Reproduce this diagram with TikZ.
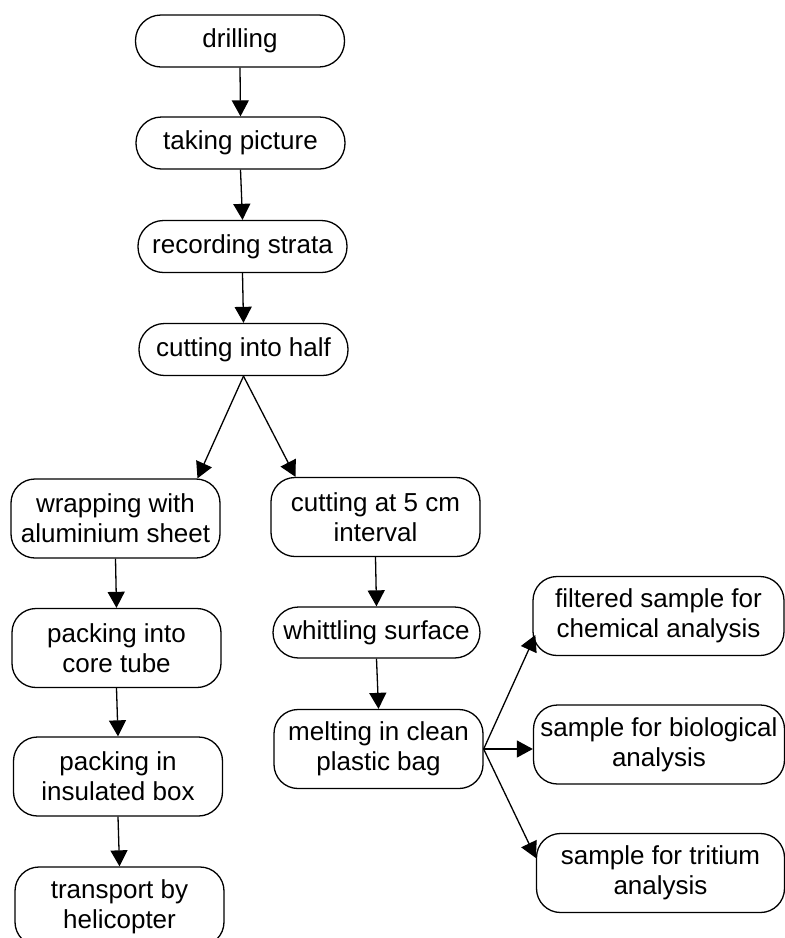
\documentclass[tikz,border=0pt]{standalone}
\usepackage{fontspec}
\setmainfont{Liberation Sans}
\usetikzlibrary{arrows.meta}
\begin{document}
\begin{tikzpicture}[x=1pt,y=-1pt,
  box/.style={draw, line width=1.3pt, rounded corners=24pt, align=center, inner sep=0pt,
    minimum width=209pt, minimum height=79pt, font=\fontsize{26}{30}\selectfont},
  pill/.style={box, rounded corners=25.5pt, minimum height=52pt},
  wide/.style={box, minimum width=251pt},
  arr/.style={line width=1.3pt, -{Triangle[width=17pt,length=16pt]}}]
\useasboundingbox (0,0) rectangle (785,938);
\clip (0,0) rectangle (785,938);
\fill[white] (0,0) rectangle (785,938);

\node[pill] (drill) at (240,41) {drilling};
\node[pill] (pict) at (240.5,143) {taking picture};
\node[pill] (strata) at (242.5,246.5) {recording strata};
\node[pill] (half) at (243.5,349.5) {cutting into half};

\node[box] (wrap) at (115.5,518.5) {wrapping with\\aluminium sheet};
\node[box] (pack1) at (116.5,648) {packing into\\core tube};
\node[box] (pack2) at (118,776.5) {packing in\\insulated box};
\node[box] (trans) at (119.5,906.5) {transport by\\helicopter};

\node[box] (cut5) at (375.5,517) {cutting at 5 cm\\interval};
\node[pill, minimum width=207pt, minimum height=51pt] (whit) at (376.5,632.5) {whittling surface};
\node[box] (melt) at (378.5,749) {melting in clean\\plastic bag};

\node[wide] (filt) at (658.5,616) {filtered sample for\\chemical analysis};
\node[wide] (bio) at (659,744.5) {sample for biological\\analysis};
\node[wide, minimum width=248pt] (trit) at (660.5,873) {sample for tritium\\analysis};

\draw[arr] (drill.south) -- (pict.north);
\draw[arr] (pict.south) -- (strata.north);
\draw[arr] (strata.south) -- (half.north);
\draw[arr] (half.south) -- ([xshift=82pt]wrap.north);
\draw[arr] (half.south) -- ([xshift=-80pt]cut5.north);
\draw[arr] (wrap.south) -- (pack1.north);
\draw[arr] (pack1.south) -- (pack2.north);
\draw[arr] (pack2.south) -- (trans.north);
\draw[arr] (cut5.south) -- (whit.north);
\draw[arr] (whit.south) -- (melt.north);
\draw[arr] (melt.east) -- ([xshift=3pt,yshift=-19pt]filt.west);
\draw[arr] (melt.east) -- (melt.east -| bio.west);
\draw[arr] (melt.east) -- ([yshift=15pt]trit.west);
\end{tikzpicture}
\end{document}
